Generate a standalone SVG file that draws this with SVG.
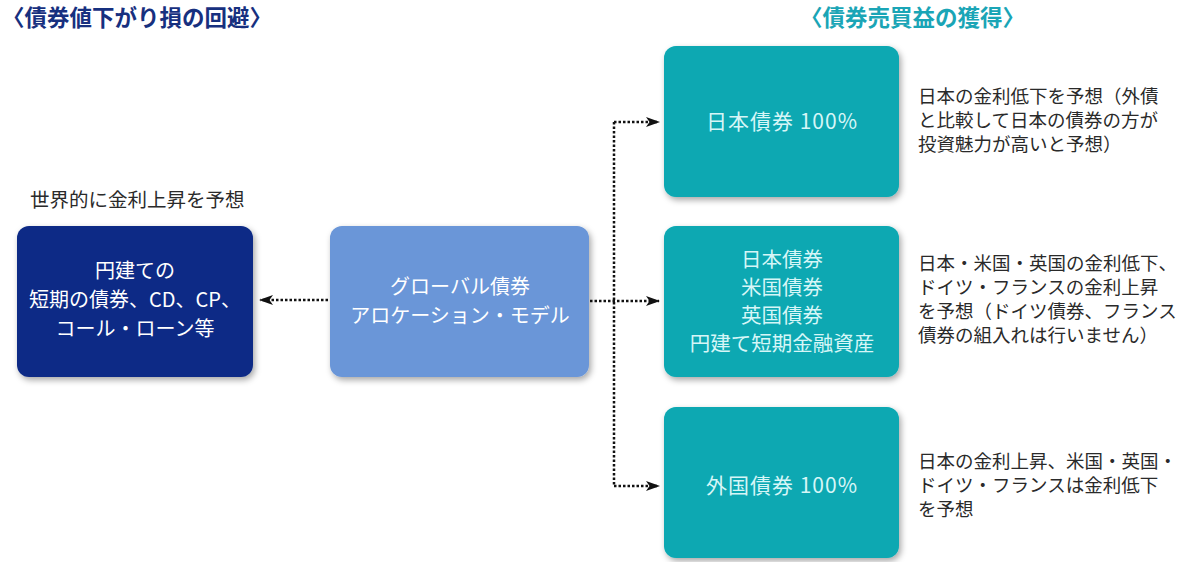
<svg xmlns="http://www.w3.org/2000/svg" width="1184" height="562" viewBox="0 0 1184 562">
<style>
text{font-family:"Noto Sans CJK JP","Noto Sans",sans-serif}
.title{font-size:22.5px;font-weight:bold}
.box{font-size:20px;fill:#ffffff;text-anchor:middle}
.tbox{font-size:20.5px;fill:#d6f6f7;text-anchor:middle}
.note{font-size:18.5px;fill:#2a2a2a}
.conn{fill:none;stroke:#111;stroke-width:2.5;stroke-dasharray:2.5 2}
</style>
<defs>
<filter id="sh" x="-10%" y="-10%" width="125%" height="130%">
<feDropShadow dx="2" dy="3" stdDeviation="3" flood-color="#000" flood-opacity="0.35"/>
</filter>
<marker id="ah" markerWidth="14" markerHeight="10" refX="13" refY="5" orient="auto" markerUnits="userSpaceOnUse">
<path d="M0,0 L14,5 L0,10 L3.5,5 Z" fill="#111"/>
</marker>
</defs>
<rect width="1184" height="562" fill="#ffffff"/>
<text class="title" x="2" y="26" fill="#17307f">〈債券値下がり損の回避〉</text>
<text class="title" x="800" y="26" fill="#1aa5b6">〈債券売買益の獲得〉</text>
<text class="note" x="30" y="207" style="font-size:19.5px">世界的に金利上昇を予想</text>

<g id="connectors">
<line class="conn" x1="328" y1="300" x2="260" y2="300" marker-end="url(#ah)"/>
<line class="conn" x1="590" y1="301" x2="659" y2="301" marker-end="url(#ah)"/>
<line class="conn" x1="614" y1="122" x2="614" y2="486"/>
<line class="conn" x1="614" y1="122" x2="659" y2="122" marker-end="url(#ah)"/>
<line class="conn" x1="614" y1="486" x2="659" y2="486" marker-end="url(#ah)"/>
</g>

<g id="short-term">
<rect x="17" y="226" width="236" height="151" rx="12" fill="#0c2c86" filter="url(#sh)"/>
<text class="box" x="135" y="278">円建ての</text>
<text class="box" x="135" y="307">短期の債券、CD、CP、</text>
<text class="box" x="135" y="336">コール・ローン等</text>
</g>

<g id="model">
<rect x="330" y="226" width="259" height="151" rx="12" fill="#6a96d8" filter="url(#sh)"/>
<text class="box" x="460" y="294">グローバル債券</text>
<text class="box" x="460" y="323">アロケーション・モデル</text>
</g>

<g id="jp100">
<rect x="664" y="46" width="235" height="151" rx="12" fill="#08a8b2" filter="url(#sh)"/>
<text class="tbox" x="782" y="129" style="letter-spacing:1px;font-size:21px">日本債券 100%</text>
</g>
<text class="note" x="918" y="103">日本の金利低下を予想（外債</text>
<text class="note" x="918" y="127">と比較して日本の債券の方が</text>
<text class="note" x="918" y="151">投資魅力が高いと予想）</text>

<g id="mixed">
<rect x="664" y="226" width="235" height="151" rx="12" fill="#08a8b2" filter="url(#sh)"/>
<text class="tbox" x="782" y="267">日本債券</text>
<text class="tbox" x="782" y="295">米国債券</text>
<text class="tbox" x="782" y="323">英国債券</text>
<text class="tbox" x="782" y="351">円建て短期金融資産</text>
</g>
<text class="note" x="918" y="270">日本・米国・英国の金利低下、</text>
<text class="note" x="918" y="294">ドイツ・フランスの金利上昇</text>
<text class="note" x="918" y="318">を予想（ドイツ債券、フランス</text>
<text class="note" x="918" y="342">債券の組入れは行いません）</text>

<g id="foreign100">
<rect x="664" y="407" width="235" height="151" rx="12" fill="#08a8b2" filter="url(#sh)"/>
<text class="tbox" x="782" y="493" style="letter-spacing:1px;font-size:21px">外国債券 100%</text>
</g>
<text class="note" x="918" y="468">日本の金利上昇、米国・英国・</text>
<text class="note" x="918" y="492">ドイツ・フランスは金利低下</text>
<text class="note" x="918" y="516">を予想</text>
</svg>
